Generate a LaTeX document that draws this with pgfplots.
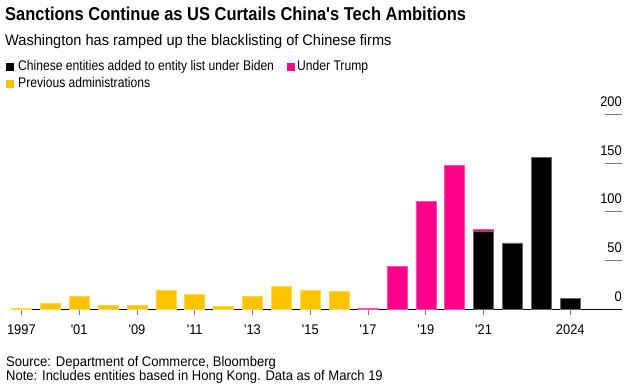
\documentclass[border=0pt]{standalone}
\usepackage{fontspec}
\setmainfont{Liberation Sans}
\newfontfamily\titlef[FakeStretch=0.885]{Liberation Sans}
\newfontfamily\subf[FakeStretch=0.958]{Liberation Sans}
\newfontfamily\legf[FakeStretch=0.865]{Liberation Sans}
\newfontfamily\srcf[FakeStretch=0.93]{Liberation Sans}
\newfontfamily\tickf[FakeStretch=0.92]{Liberation Sans}
\usepackage{pgfplots}
\pgfplotsset{compat=1.18}
\definecolor{byellow}{RGB}{255,195,0}
\definecolor{bpink}{RGB}{255,0,140}
\definecolor{bgrid}{RGB}{120,120,120}
\begin{document}
\begin{tikzpicture}[x=1pt,y=1pt]
\useasboundingbox (0,0) rectangle (634,389);
\node[anchor=base west,inner sep=0] at (5,368) {\titlef\bfseries\fontsize{18.6}{20}\selectfont Sanctions Continue as US Curtails China's Tech Ambitions};
\node[anchor=base west,inner sep=0] at (5,343) {\subf\fontsize{15.2}{17}\selectfont Washington has ramped up the blacklisting of Chinese firms};
\fill[black] (6,318) rectangle (14,326);
\node[anchor=base west,inner sep=0] at (18,318) {\legf\fontsize{14}{15}\selectfont Chinese entities added to entity list under Biden};
\fill[bpink] (287,318) rectangle (295,326);
\node[anchor=base west,inner sep=0] at (297,318) {\legf\fontsize{14}{15}\selectfont Under Trump};
\fill[byellow] (6,301) rectangle (14,309);
\node[anchor=base west,inner sep=0] at (18,301) {\legf\fontsize{14}{15}\selectfont Previous administrations};
\node[anchor=base west,inner sep=0] at (6,23) {\srcf\fontsize{14}{15}\selectfont Source: Department of Commerce, Bloomberg};
\node[anchor=base west,inner sep=0] at (6,9) {\srcf\fontsize{14}{15}\selectfont Note: Includes entities based in Hong Kong. Data as of March 19};
\begin{axis}[
  at={(11pt,80pt)}, anchor=south west, scale only axis,
  width=611pt, height=194.3pt,
  xmin=-0.36, xmax=20.79, ymin=0, ymax=200,
  axis x line=bottom, axis y line=none,
  axis line style={-, black, line width=0.8pt},
  ytick=\empty,
  xtick={0,2,4,6,8,10,12,14,16,19},
  xticklabels={\mbox{1997},\mbox{'01},\mbox{'09},\mbox{'11},\mbox{'13},\mbox{'15},\mbox{'17},\mbox{'19},\mbox{'21},\mbox{2024}},
  xtick align=outside,
  major tick length=6pt,
  x tick style={bgrid, line width=0.8pt},
  xticklabel style={font=\tickf\fontsize{14}{15}\selectfont, text=black, yshift=-6pt},
  clip=false,
]
\addplot[ybar, bar width=20pt, bar shift=0pt, fill=byellow, draw=byellow!70!white, line width=0.5pt]
  coordinates {(0,1)(1,6)(2,13)(3,4)(4,4)(5,19)(6,15)(7,3)(8,13)(9,23)(10,19)(11,18)};
\addplot[ybar, bar width=20pt, bar shift=0pt, fill=bpink, draw=bpink!70!white, line width=0.5pt]
  coordinates {(12,1)(13,44)(14,111)(15,148)(16,82)};
\addplot[ybar, bar width=20pt, bar shift=0pt, fill=black, draw=black!60!white, line width=0.5pt]
  coordinates {(16,80)(17,68)(18,156)(19,11)};
\draw[bgrid, line width=0.8pt] (axis cs:20.21,50) -- (axis cs:20.79,50);
\draw[bgrid, line width=0.8pt] (axis cs:20.21,100) -- (axis cs:20.79,100);
\draw[bgrid, line width=0.8pt] (axis cs:20.21,150) -- (axis cs:20.79,150);
\draw[bgrid, line width=0.8pt] (axis cs:20.21,200) -- (axis cs:20.79,200);
\node[anchor=base east, inner sep=0, yshift=8pt, font=\tickf\fontsize{14}{15}\selectfont] at (axis cs:20.79,0) {0};
\node[anchor=base east, inner sep=0, yshift=8pt, font=\tickf\fontsize{14}{15}\selectfont] at (axis cs:20.79,50) {50};
\node[anchor=base east, inner sep=0, yshift=8pt, font=\tickf\fontsize{14}{15}\selectfont] at (axis cs:20.79,100) {100};
\node[anchor=base east, inner sep=0, yshift=8pt, font=\tickf\fontsize{14}{15}\selectfont] at (axis cs:20.79,150) {150};
\node[anchor=base east, inner sep=0, yshift=8pt, font=\tickf\fontsize{14}{15}\selectfont] at (axis cs:20.79,200) {200};
\end{axis}
\end{tikzpicture}
\end{document}
